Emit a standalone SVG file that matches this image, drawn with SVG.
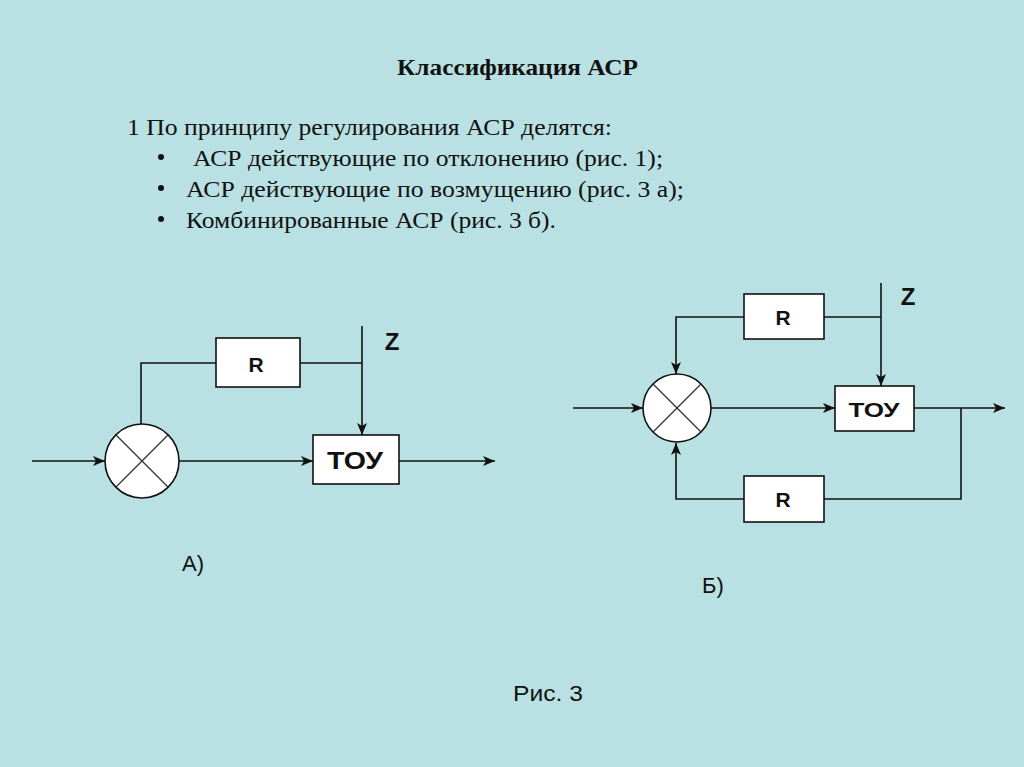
<svg xmlns="http://www.w3.org/2000/svg" width="1024" height="767" viewBox="0 0 1024 767">
<style>
.ln{fill:none;stroke:#111;stroke-width:1.6}
.box{fill:#fff;stroke:#111;stroke-width:1.6}
.bt{font-family:"Liberation Sans",Arial,sans-serif;font-weight:bold;fill:#111;text-anchor:middle}
.lab{font-family:"Liberation Sans",Arial,sans-serif;font-size:22px;fill:#111}
.tm{font-family:"Liberation Serif","Times New Roman",serif;font-size:24px;fill:#111}
.xl{stroke:#333;stroke-width:1.2}
</style>
<defs>
<marker id="ar" viewBox="0 0 12 10" refX="12" refY="5" markerWidth="12" markerHeight="10" markerUnits="userSpaceOnUse" orient="auto">
<path d="M0,0 L12,5 L0,10 L3,5 Z" fill="#111"/>
</marker>
</defs>
<rect width="1024" height="767" fill="#b9e0e2"/>
<text class="tm" x="397" y="75" font-weight="bold" textLength="241" lengthAdjust="spacingAndGlyphs">Классификация АСР</text>
<text class="tm" x="127" y="135" textLength="485" lengthAdjust="spacingAndGlyphs">1 По принципу регулирования АСР делятся:</text>
<circle cx="161" cy="157" r="3" fill="#111"/>
<circle cx="161" cy="188" r="3" fill="#111"/>
<circle cx="161" cy="219" r="3" fill="#111"/>
<text class="tm" x="193" y="166" textLength="470" lengthAdjust="spacingAndGlyphs">АСР действующие по отклонению (рис. 1);</text>
<text class="tm" x="186" y="197" textLength="498" lengthAdjust="spacingAndGlyphs">АСР действующие по возмущению (рис. 3 а);</text>
<text class="tm" x="186" y="228" textLength="370" lengthAdjust="spacingAndGlyphs">Комбинированные АСР (рис. 3 б).</text>

<g id="connectors">
<line class="ln" x1="32" y1="461" x2="105" y2="461" marker-end="url(#ar)"/>
<polyline class="ln" points="141,424 141,363 216,363"/>
<line class="ln" x1="300" y1="363" x2="362" y2="363"/>
<line class="ln" x1="362" y1="326" x2="362" y2="435" marker-end="url(#ar)"/>
<line class="ln" x1="179" y1="461" x2="313" y2="461" marker-end="url(#ar)"/>
<line class="ln" x1="399" y1="461" x2="495" y2="461" marker-end="url(#ar)"/>

<line class="ln" x1="573" y1="408" x2="643" y2="408" marker-end="url(#ar)"/>
<polyline class="ln" points="744,317 676,317 676,374" marker-end="url(#ar)"/>
<line class="ln" x1="824" y1="317" x2="881" y2="317"/>
<line class="ln" x1="881" y1="283" x2="881" y2="386" marker-end="url(#ar)"/>
<line class="ln" x1="711" y1="408" x2="835" y2="408" marker-end="url(#ar)"/>
<line class="ln" x1="914" y1="408" x2="1005" y2="408" marker-end="url(#ar)"/>
<polyline class="ln" points="961,408 961,499 824,499"/>
<polyline class="ln" points="744,499 676,499 676,443" marker-end="url(#ar)"/>
</g>

<g id="a-sum">
<circle class="box" cx="142" cy="461" r="37"/>
<line class="xl" x1="116" y1="435" x2="168" y2="487"/>
<line class="xl" x1="168" y1="435" x2="116" y2="487"/>
</g>
<g id="a-r"><rect class="box" x="216" y="338" width="84" height="49"/><text class="bt" x="256" y="372" font-size="21">R</text></g>
<g id="a-toy"><rect class="box" x="313" y="435" width="86" height="49"/><text class="bt" x="355" y="469" font-size="23" textLength="56" lengthAdjust="spacingAndGlyphs">ТОУ</text></g>
<text class="bt" x="392" y="350" font-size="24">Z</text>

<g id="b-sum">
<circle class="box" cx="677" cy="408" r="34"/>
<line class="xl" x1="653" y1="384" x2="701" y2="432"/>
<line class="xl" x1="701" y1="384" x2="653" y2="432"/>
</g>
<g id="b-r1"><rect class="box" x="744" y="294" width="80" height="45"/><text class="bt" x="783" y="325" font-size="21">R</text></g>
<g id="b-toy"><rect class="box" x="835" y="386" width="79" height="45"/><text class="bt" x="874" y="417" font-size="21" textLength="51" lengthAdjust="spacingAndGlyphs">ТОУ</text></g>
<g id="b-r2"><rect class="box" x="744" y="476" width="80" height="46"/><text class="bt" x="783" y="507" font-size="21">R</text></g>
<text class="bt" x="908" y="305" font-size="24">Z</text>

<text class="lab" x="182" y="571">А)</text>
<text class="lab" x="702" y="593">Б)</text>
<text class="lab" x="513" y="701" font-size="24" textLength="70" lengthAdjust="spacingAndGlyphs">Рис. 3</text>
</svg>
